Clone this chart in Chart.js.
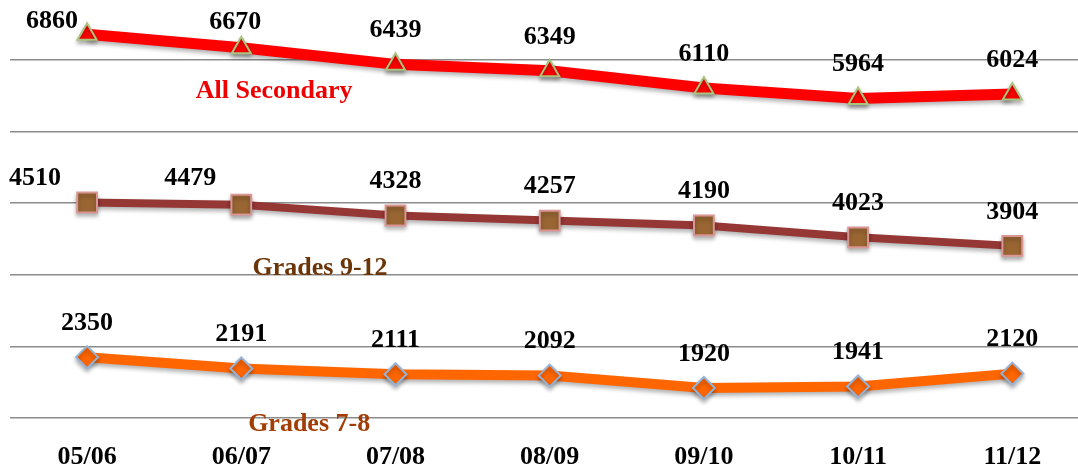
<!DOCTYPE html>
<html>
<head>
<meta charset="utf-8">
<script src="https://cdn.jsdelivr.net/npm/chart.js@4/dist/chart.umd.min.js"></script>
<style>
  html, body { margin: 0; padding: 0; background: #fff; overflow: hidden; }
  #wrap { width: 1078px; height: 475px; }
</style>
</head>
<body>
<div id="wrap"><canvas id="chart"></canvas></div>
<script>
// school years on the x axis
const YEARS = ['05/06', '06/07', '07/08', '08/09', '09/10', '10/11', '11/12'];

// enrolment per series
const ALL_SECONDARY = [6860, 6670, 6439, 6349, 6110, 5964, 6024];
const GRADES_9_12 = [4510, 4479, 4328, 4257, 4190, 4023, 3904];
const GRADES_7_8 = [2350, 2191, 2111, 2092, 1920, 1941, 2120];

// gridlines (no tick labels shown)
const GRID_TICKS = [1500, 2500, 3500, 4500, 5500, 6500];

const SERIF = '"Liberation Serif", "Times New Roman", serif';

// label nudges (pixels) for the value labels, per series
const labelNudge = [
  [[-35, 21], [-6, 8], [0, 0], [0, 0], [0, 0], [0, 0], [0, 0]],
  [[-52, 10], [-51, 8], [0, 0], [0, 0], [0, 0], [0, 0], [0, 0]],
  [[0, 0], [0, 0], [0, 0], [0, 0], [0, 0], [0, 0], [0, 0]]
];

// series name captions, placed in data coordinates
const captions = [
  { text: 'All Secondary', x: 1.213, y: 6067, color: '#ee0000' },
  { text: 'Grades 9-12', x: 1.511, y: 3595, color: '#6b3508' },
  { text: 'Grades 7-8', x: 1.44, y: 1416, color: '#a33d06' }
];

const toPts = arr => arr.map((v, i) => ({ x: i, y: v }));

const labelsPlugin = {
  id: 'labels',
  afterDatasetsDraw(chart) {
    const ctx = chart.ctx;
    ctx.save();
    ctx.font = 'bold 26px ' + SERIF;
    ctx.textAlign = 'center';
    ctx.textBaseline = 'middle';
    ctx.fillStyle = '#000';
    chart.data.datasets.forEach((ds, di) => {
      const meta = chart.getDatasetMeta(di);
      meta.data.forEach((pt, i) => {
        const n = labelNudge[di][i];
        ctx.fillText(String(ds.data[i].y), pt.x + n[0], pt.y - 34 + n[1]);
      });
    });
    const xs = chart.scales.x, ys = chart.scales.y;
    captions.forEach(c => {
      ctx.fillStyle = c.color;
      ctx.fillText(c.text, xs.getPixelForValue(c.x), ys.getPixelForValue(c.y));
    });
    ctx.restore();
  }
};

const shadowPlugin = {
  id: 'shadow',
  beforeDatasetDraw(chart) {
    const ctx = chart.ctx;
    ctx.save();
    ctx.shadowColor = 'rgba(0,0,0,0.3)';
    ctx.shadowBlur = 4;
    ctx.shadowOffsetY = 3;
  },
  afterDatasetDraw(chart) {
    chart.ctx.restore();
  }
};

new Chart(document.getElementById('chart'), {
  type: 'line',
  data: {
    datasets: [
      {
        data: toPts(ALL_SECONDARY),
        borderColor: '#ff0000',
        borderWidth: 11,
        pointStyle: 'triangle',
        pointRadius: 11,
        pointBackgroundColor: '#ff0000',
        pointBorderColor: '#a9c47f',
        pointBorderWidth: 2
      },
      {
        data: toPts(GRADES_9_12),
        borderColor: '#953735',
        borderWidth: 8,
        pointStyle: 'rect',
        pointRadius: 14,
        pointBackgroundColor: '#996633',
        pointBorderColor: '#d99694',
        pointBorderWidth: 2
      },
      {
        data: toPts(GRADES_7_8),
        borderColor: '#ff6600',
        borderWidth: 10,
        pointStyle: 'rectRot',
        pointRadius: 11,
        pointBackgroundColor: '#ff6600',
        pointBorderColor: '#95b3d7',
        pointBorderWidth: 2
      }
    ]
  },
  options: {
    responsive: true,
    maintainAspectRatio: false,
    animation: false,
    layout: { autoPadding: false, padding: { left: 10, right: 0, top: 0, bottom: 0 } },
    plugins: { legend: { display: false }, tooltip: { enabled: false } },
    scales: {
      x: {
        type: 'linear',
        min: -0.5,
        max: 6.426,
        afterBuildTicks: axis => { axis.ticks = YEARS.map((_, i) => ({ value: i })); },
        afterFit: axis => { axis.height = 57; },
        ticks: {
          callback: v => YEARS[v],
          font: { family: SERIF, size: 26, weight: 'bold' },
          color: '#000',
          padding: 16,
          maxRotation: 0,
          autoSkip: false
        },
        grid: { display: false },
        border: { display: false }
      },
      y: {
        min: 1500,
        max: 7338,
        afterBuildTicks: axis => { axis.ticks = GRID_TICKS.map(v => ({ value: v })); },
        afterFit: axis => { axis.width = 0; },
        ticks: { display: false },
        grid: { color: '#8c8c8c', lineWidth: 1.5, drawTicks: false },
        border: { display: false }
      }
    }
  },
  plugins: [shadowPlugin, labelsPlugin]
});
</script>
</body>
</html>
